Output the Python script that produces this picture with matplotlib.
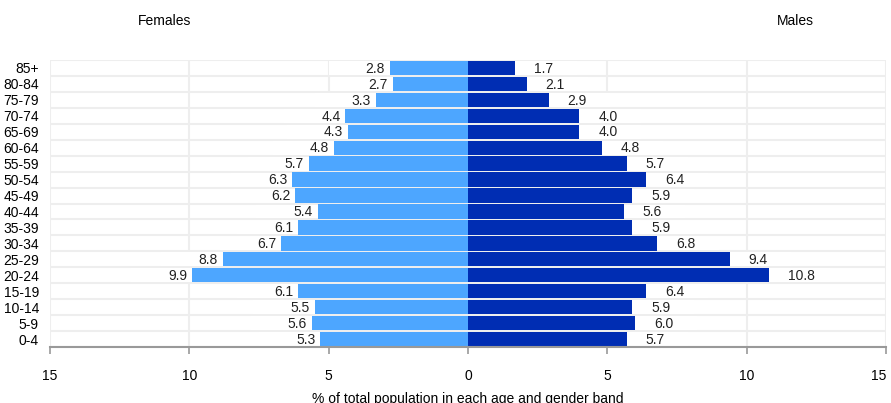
import matplotlib
matplotlib.use("Agg")
import matplotlib.pyplot as plt
import numpy as np

plt.rcParams['font.family'] = ['Liberation Sans', 'DejaVu Sans']

age_groups = ["0-4", "5-9", "10-14", "15-19", "20-24", "25-29", "30-34", "35-39",
              "40-44", "45-49", "50-54", "55-59", "60-64", "65-69", "70-74",
              "75-79", "80-84", "85+"]
females = [5.3, 5.6, 5.5, 6.1, 9.9, 8.8, 6.7, 6.1, 5.4, 6.2, 6.3, 5.7, 4.8, 4.3, 4.4, 3.3, 2.7, 2.8]
males = [5.7, 6.0, 5.9, 6.4, 10.8, 9.4, 6.8, 5.9, 5.6, 5.9, 6.4, 5.7, 4.8, 4.0, 4.0, 2.9, 2.1, 1.7]
x_ticks = [-15, -10, -5, 0, 5, 10, 15]
x_tick_labels = ["15", "10", "5", "0", "5", "10", "15"]

fem_color = "#4da6ff"
male_color = "#002db3"
label_box_w = 2.2  # width of white label backgrounds, in axis units

fig = plt.figure(figsize=(8.91, 4.03), dpi=100)
ax = fig.add_axes([50/891, 1-347/403, (886-50)/891, (347-60)/403])

y = np.arange(len(age_groups))
neg_f = [-v for v in females]

# white label backgrounds (hide vertical gridlines behind the labels)
ax.barh(y, [-label_box_w] * len(y), left=neg_f, height=0.86, color="white", zorder=1)
ax.barh(y, [label_box_w] * len(y), left=males, height=0.86, color="white", zorder=1)

ax.barh(y, neg_f, height=0.9, color=fem_color, zorder=3)
ax.barh(y, males, height=0.9, color=male_color, zorder=3)

for yi, v in zip(y, females):
    ax.annotate(f"{v:.1f}", xy=(-v, yi), xytext=(-3.6, -0.5), textcoords="offset points",
                ha="right", va="center", fontsize=10, color="#222222", zorder=4)
for yi, v in zip(y, males):
    ax.annotate(f"{v:.1f}", xy=(v, yi), xytext=(13.5, -0.5), textcoords="offset points",
                ha="left", va="center", fontsize=10, color="#222222", zorder=4)

ax.set_xlim(-15, 15)
ax.set_ylim(-0.5, len(age_groups) - 0.5)
ax.set_xticks(x_ticks)
ax.set_xticklabels(x_tick_labels, fontsize=10)
ax.set_yticks(y)
ax.set_yticklabels(age_groups, fontsize=10)
ax.get_xticklabels()[-1].set_horizontalalignment("right")

# grid
ax.set_yticks(np.arange(-0.5, len(age_groups), 1), minor=True)
ax.grid(axis="y", which="minor", color="#eeeeee", lw=1.5, zorder=0)
ax.grid(axis="x", which="major", color="#eeeeee", lw=1.5, zorder=0)
ax.set_axisbelow(True)
ax.tick_params(axis="y", which="both", length=0, pad=8)
ax.tick_params(axis="x", which="major", length=5, color="#999999", width=1.2, pad=11)
ax.tick_params(axis="x", which="minor", length=0)

for s in ["top", "right", "left"]:
    ax.spines[s].set_visible(False)
ax.spines["bottom"].set_color("#999999")
ax.spines["bottom"].set_linewidth(1.5)
ax.spines["bottom"].set_zorder(5)

ax.set_xlabel("% of total population in each age and gender band", fontsize=10, labelpad=6)

fig.text(165/891, 1-21/403, "Females", ha="center", va="center", fontsize=10)
fig.text(795/891, 1-21/403, "Males", ha="center", va="center", fontsize=10)

fig.savefig("out.png", dpi=100)
